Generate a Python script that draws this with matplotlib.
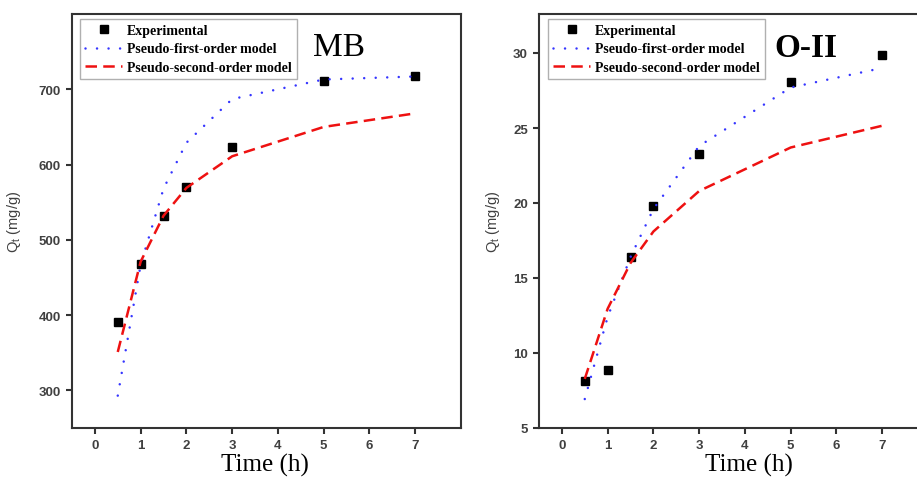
import numpy as np
import matplotlib.pyplot as plt

# Время, ч
t = [0.5, 1, 1.5, 2, 3, 5, 7]

# MB
mb_exp = [391, 468, 531, 570, 623, 711, 717]
mb_pfo = [293, 467, 568, 629, 687, 713, 717]
mb_pso = [351, 471, 532, 569, 611, 650, 668]

# O-II
oii_exp = [8.15, 8.9, 16.4, 19.78, 23.3, 28.1, 29.9]
oii_pfo = [6.93, 12.4, 16.4, 19.6, 23.8, 27.7, 29.0]
oii_pso = [8.27, 12.95, 16.0, 18.1, 20.8, 23.7, 25.15]

spine_col = '#333333'
tick_col = '#404040'

fig = plt.figure(figsize=(9.17, 4.81), dpi=100)
ax1 = fig.add_axes([72/917, 52/481, 389/917, 414/481])
ax2 = fig.add_axes([539/917, 52/481, 389/917, 414/481])


def draw_panel(ax, exp, pfo, pso, ylim, yticks, name, weight, leg_x, lab_x, xlab_x):
    ax.plot(t, exp, 's', color='black', ms=5.5, label='Experimental', zorder=2)
    ax.plot(t, pfo, color='#3535ff', lw=1.8, linestyle=(0, (0.01, 4.6)),
            dash_capstyle='round', label='Pseudo-first-order model', zorder=3)
    ax.plot(t, pso, color='#ee1111', lw=1.8, linestyle=(0, (4.6, 2.5)),
            label='Pseudo-second-order model', zorder=3)
    ax.set_xlim(-0.5, 8)
    ax.set_ylim(*ylim)
    ax.set_xticks(range(8))
    ax.set_yticks(yticks)
    for s in ax.spines.values():
        s.set_color(spine_col)
        s.set_linewidth(1.5)
    ax.tick_params(direction='out', length=4, width=1.5, color=spine_col,
                   labelsize=9.5, labelcolor=tick_col, pad=4)
    for lab in ax.get_xticklabels() + ax.get_yticklabels():
        lab.set_fontfamily('Liberation Sans')
        lab.set_fontweight('bold')
    ax.set_xlabel('Time (h)', fontfamily='Liberation Serif', fontsize=18)
    ax.xaxis.set_label_coords(xlab_x, -0.06)
    ax.set_ylabel('Q$_\\mathregular{t}$ (mg/g)', fontfamily='Liberation Sans',
                  fontsize=10.5, color=tick_col)
    ax.yaxis.set_label_coords(lab_x, 0.5)
    ax.text(0.686, 0.92, name, transform=ax.transAxes, ha='center', va='center',
            fontfamily='Liberation Serif', fontsize=24, fontweight=weight)
    leg = ax.legend(loc='upper left', bbox_to_anchor=(leg_x, 0.988), borderaxespad=0,
                    fancybox=False, edgecolor='#b0b0b0', framealpha=1,
                    prop={'family': 'Liberation Serif', 'weight': 'bold', 'size': 10},
                    handlelength=2.7, handletextpad=0.35, borderpad=0.35,
                    labelspacing=0.4)
    leg.get_frame().set_linewidth(1.0)


draw_panel(ax1, mb_exp, mb_pfo, mb_pso, (250, 800), [300, 400, 500, 600, 700],
           'MB', 'normal', 0.0206, -0.125, 0.496)
draw_panel(ax2, oii_exp, oii_pfo, oii_pso, (5, 32.6), [5, 10, 15, 20, 25, 30],
           'O-II', 'bold', 0.023, -0.095, 0.54)

fig.savefig('out.png', dpi=100)
